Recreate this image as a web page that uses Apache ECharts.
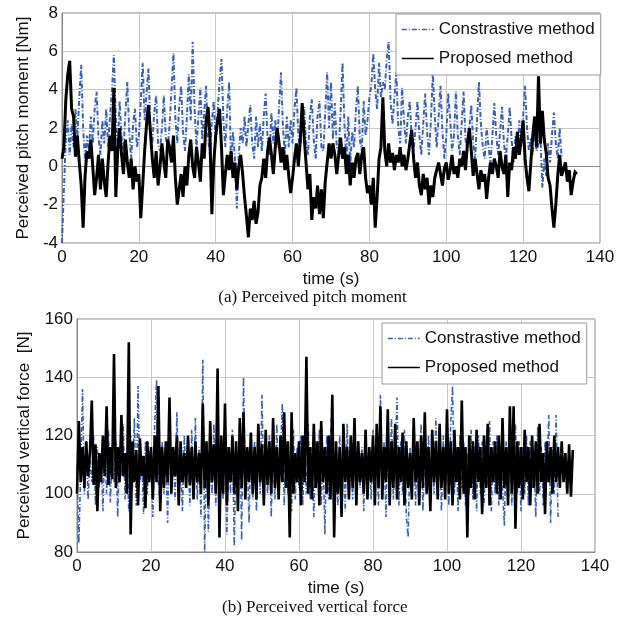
<!DOCTYPE html>
<html>
<head>
<meta charset="utf-8">
<script src="https://cdn.jsdelivr.net/npm/echarts@6/dist/echarts.min.js"></script>
<style>
html,body{margin:0;padding:0;background:#fff;}
#chart{width:625px;height:619px;}
</style>
</head>
<body>
<div id="chart"></div>
<script>
// ---- Data ----
const timeStep = 0.5; // seconds between samples
const seriesNames = ["Constrastive method", "Proposed method"];
const xTicks = [0, 20, 40, 60, 80, 100, 120, 140];

// (a) Perceived pitch moment [Nm], samples every 0.5 s from t = 0
const pitchContrastive = [
 -4.0,-1.2,1.5,2.4, 0.6,2.2,1.0,3.0, 1.5,3.6,5.3,2.0, 0.3,1.6,0.8,2.6, 1.2,3.0,3.9,1.5,
 0.6,2.4,1.2,3.0, 1.0,2.6,4.0,5.8, 2.5,1.0,3.4,1.5, 0.8,2.8,4.4,1.8, 0.4,2.2,3.0,1.0,
 1.6,3.4,5.4,2.4, 3.8,5.1,2.0,1.2, 2.8,3.7,1.2,0.8, 2.0,3.7,1.5,0.9, 2.2,4.0,5.9,2.5,
 1.2,3.2,4.2,1.8, 0.8,2.6,4.8,2.4, 6.5,3.0,1.0,2.6, 4.1,1.4,2.8,4.2, 1.5,0.6,2.4,3.4,
 1.2,2.8,4.5,5.6, 2.4,1.0,3.0,4.4, 0.0,1.8,0.4,-2.2, 0.6,2.0,1.2,2.6, 1.0,2.2,3.2,1.2,
 0.4,2.6,1.0,2.2, 0.8,2.6,3.8,1.4, 0.6,2.8,1.2,2.4, 1.0,3.2,4.9,2.0, 0.6,2.6,1.0,2.4,
 1.2,3.0,4.1,1.6, 0.8,2.4,3.1,1.2, 0.6,2.6,3.5,1.4, 0.4,2.6,3.4,1.0, 0.8,2.8,4.9,2.0,
 4.4,1.4,3.3,1.0, 0.8,2.8,5.4,2.2, 0.2,2.6,0.0,1.8, 1.0,3.0,4.2,1.4, 0.8,3.4,1.6,2.4,
 3.6,4.2,5.9,4.0, 3.0,5.4,3.6,4.4, 4.0,5.6,6.5,3.4, 2.2,3.6,4.9,2.0, 1.2,4.1,2.4,1.2,
 2.6,3.4,1.4,0.8, 2.0,3.4,1.6,0.6, 2.2,3.8,1.8,0.6, 2.4,4.9,2.6,1.0, 2.6,4.2,1.8,0.4,
 1.6,3.8,2.5,0.8, 1.6,3.9,1.6,0.6, 2.2,3.9,1.4,0.8, 2.0,3.2,1.2,0.4, 2.4,4.4,2.2,1.0,
 0.4,2.0,1.0,0.2, 1.6,3.3,1.6,0.6, 1.8,3.1,1.2,0.4, 1.6,3.1,1.4,0.2, 1.6,0.6,2.4,1.0,
 2.6,4.2,2.0,0.8, 1.5,0.6,2.0,0.8, 0.8,1.6,-1.1,0.4, -0.5,1.2,0.2,1.6, 2.8,1.2,0.4,2.0,
 0.5
];
const pitchProposed = [
 0.4,1.0,3.5,4.8, 5.5,3.0,2.6,0.5, 1.6,0.2,-1.0,-3.2, -0.5,0.8,0.4,1.4, 0.0,-1.5,-0.6,0.6,
 -1.2,0.4,-0.8,-1.6, 0.2,1.6,0.8,4.1, -1.6,0.8,2.0,0.6, -0.4,1.4,0.2,-0.6, 0.4,-1.2,0.0,-0.8,
 -0.4,-2.7,-1.0,0.8, 2.2,3.2,1.8,0.4, -0.6,0.8,-1.0,0.0, 1.2,0.2,-0.6,1.4, 1.0,0.2,1.6,-0.6,
 -2.0,-1.2,-0.4,-1.6, 0.0,-1.0,0.6,1.4, 0.0,-0.6,1.0,0.2, -0.8,1.2,0.4,2.4, 3.1,1.6,-2.5,0.2,
 1.6,2.4,3.0,1.0, -1.5,-0.4,0.6,-0.2, 0.8,-0.6,0.2,-1.2, 0.0,0.6,-0.4,-1.6, -2.6,-3.7,-2.2,-2.8,
 -1.8,-3.0,-2.4,-1.0, -0.6,0.4,-0.6,0.8, 1.5,0.6,-0.4,1.0, 2.0,1.2,0.2,1.0, -0.2,0.6,-0.5,-1.4,
 -0.6,0.4,1.2,0.0, 1.4,3.3,1.6,0.2, -1.2,-0.4,-2.8,-1.6, -2.2,-1.0,-2.5,-1.2, -2.7,-0.8,0.2,1.2,
 0.4,1.2,0.6,-0.4, 0.6,1.5,0.4,1.0, -0.4,0.6,-1.0,0.2, -0.6,0.4,0.7,-0.4, 0.6,1.0,-0.6,-1.4,
 -1.0,-2.0,-0.6,-3.2, -1.6,0.4,1.0,3.6, 0.8,0.0,1.2,0.2, 0.7,-0.2,0.6,0.2, 1.0,0.0,0.6,-0.2,
 0.4,1.2,1.9,0.4, -0.6,0.2,-1.0,-1.5, -0.4,-1.2,-0.6,-2.0, -1.0,-1.6,-0.6,-0.2, 0.2,-0.4,-1.0,-0.1,
 0.2,-0.7,-0.2,0.6, -0.4,0.0,-0.6,0.4, 0.0,0.8,-0.2,1.2, 2.0,0.8,-0.5,0.4, -0.4,-1.2,-0.2,-0.8,
 -0.4,-1.7,-0.6,0.2, -0.4,0.4,0.0,-0.6, 0.8,0.0,-0.4,0.6, -1.6,0.2,-0.2,1.0, 0.4,1.8,0.6,1.4,
 2.4,0.4,-0.6,-1.3, 0.2,1.6,2.6,1.0, 4.7,1.2,2.9,1.4, 0.7,-0.6,-1.0,-2.2, -3.2,-2.0,-0.5,0.6,
 -0.5,-0.4,0.2,-0.8, -0.2,-1.5,-0.8,-0.3, -0.4
];

// (b) Perceived vertical force [N], samples every 0.5 s from t = 0
const forceContrastive = [
 110,83,108,136,100,118,98,112,104,120,96,116,102,114,94,118,100,122,97,114,
 104,118,92,116,106,124,98,112,94,120,102,126,96,137,104,112,93,118,100,115,
 108,92,124,139,104,96,118,100,114,90,122,102,116,98,128,100,112,94,120,104,
 114,96,122,100,126,98,116,92,146,80,118,87,112,100,124,96,116,102,112,98,
 118,86,112,100,122,82,116,96,126,84,140,100,114,90,120,98,118,94,122,100,
 134,96,116,100,120,92,118,98,124,100,114,131,96,118,100,112,94,122,98,116,
 102,120,96,114,100,124,98,116,92,118,104,122,96,114,86,120,98,118,134,100,
 112,96,120,100,116,94,124,100,114,98,120,96,118,102,116,94,122,100,114,98,
 122,100,116,96,134,100,118,92,122,100,126,98,116,133,96,118,100,122,92,85,
 116,100,120,96,118,102,124,94,116,100,120,96,118,100,126,98,116,94,120,100,
 118,96,124,137,100,116,94,120,102,118,96,114,100,122,98,116,94,120,100,118,
 96,116,102,125,94,118,100,120,96,114,102,89,118,100,122,96,116,124,100,118,
 94,116,100,120,96,118,102,114,92,123,100,116,96,118,104,127,90,116,100,127,
 92
];
const forceProposed = [
 100,125,104,116,102,118,106,114,132,103,117,94,114,104,120,106,130,103,116,105,
 148,102,116,104,127,106,114,100,152,86,118,104,115,96,119,106,113,95,118,104,
 116,98,120,104,137,94,116,102,118,104,133,100,116,106,120,96,118,104,114,102,
 120,103,116,98,118,104,114,100,131,102,118,96,125,104,117,100,143,85,120,100,
 131,96,116,104,120,100,118,94,126,102,128,98,116,104,121,100,116,98,124,104,
 117,96,122,103,118,100,126,102,116,98,120,104,128,102,118,85,128,100,114,104,
 118,96,120,104,147,100,116,98,124,102,118,96,125,104,116,100,120,98,134,85,
 118,100,116,92,124,104,116,98,120,102,126,96,118,104,114,100,122,98,116,104,
 120,96,124,102,130,98,116,104,129,96,118,102,124,98,116,104,121,96,118,102,
 114,98,126,104,118,96,120,102,128,100,116,94,122,104,118,98,124,102,116,98,
 129,100,118,96,122,104,116,98,132,100,116,85,120,102,118,98,122,104,116,93,
 120,102,124,96,116,104,118,100,120,98,126,102,116,96,130,100,130,88,118,102,
 116,98,122,104,116,96,120,102,118,100,124,104,114,93,118,104,116,100,120,104,
 116,102,118,104,114,100,117,99,115
];

// ---- Chart ----
const BLUE = '#3a60b6';
const pairs = arr => arr.map((v, i) => [i * timeStep, v]);
const axisFont = {fontFamily: 'Liberation Sans, Arial, sans-serif', fontSize: 17, color: '#111'};
const serifFont = {fontFamily: 'Liberation Serif, Times New Roman, serif', fontSize: 17, color: '#111', fontWeight: 'normal'};

function xAxis(gridIndex) {
  return {
    type: 'value', gridIndex, min: 0, max: 140, interval: 20,
    name: 'time (s)', nameLocation: 'middle', nameGap: 28, nameTextStyle: axisFont,
    axisLabel: Object.assign({margin: 6}, axisFont),
    axisLine: {show: true, lineStyle: {color: '#888', width: 1}},
    axisTick: {show: false},
    splitLine: {show: true, lineStyle: {color: '#c8c8c8', width: 1}}
  };
}
function yAxis(gridIndex, min, max, interval, name, gap) {
  return {
    type: 'value', gridIndex, min, max, interval,
    name, nameLocation: 'middle', nameGap: gap, nameTextStyle: axisFont,
    axisLabel: Object.assign({margin: 4}, axisFont),
    axisLine: {show: true, lineStyle: {color: '#888', width: 1}},
    axisTick: {show: false},
    splitLine: {show: true, lineStyle: {color: '#c8c8c8', width: 1}}
  };
}
function legend(top, left) {
  return {
    top, left, orient: 'vertical',
    data: seriesNames,
    itemWidth: 32, itemHeight: 10, itemGap: 12,
    backgroundColor: '#fff', borderColor: '#999', borderWidth: 1,
    padding: [7, 6, 8, 5],
    itemStyle: {opacity: 0},
    lineStyle: {width: 1.6},
    textStyle: Object.assign({}, axisFont, {fontSize: 17}),
    selectedMode: false
  };
}
function lineSeries(name, idx, data, color, dashed, width) {
  return {
    name, type: 'line', xAxisIndex: idx, yAxisIndex: idx,
    data: pairs(data), showSymbol: false, symbol: 'none', animation: false,
    lineStyle: {color, width, type: dashed ? [5, 2, 1, 2] : 'solid', join: 'miter', miterLimit: 4},
    itemStyle: {color}, z: dashed ? 2 : 3
  };
}

const chart = echarts.init(document.getElementById('chart'), null, {renderer: 'canvas'});
chart.setOption({
  backgroundColor: '#fff',
  animation: false,
  title: [
    {text: '(a) Perceived pitch moment', left: 'center', top: 289, textStyle: serifFont, padding: 0},
    {text: '(b) Perceived vertical force', left: 222, top: 599, textStyle: serifFont, padding: 0}
  ],
  grid: [
    {left: 62, top: 13, width: 538, height: 230, show: true, borderColor: '#888', borderWidth: 1, backgroundColor: '#fff'},
    {left: 77, top: 319, width: 518, height: 233, show: true, borderColor: '#888', borderWidth: 1, backgroundColor: '#fff'}
  ],
  xAxis: [xAxis(0), xAxis(1)],
  yAxis: [
    yAxis(0, -4, 8, 2, 'Perceived pitch moment [Nm]', 30),
    yAxis(1, 80, 160, 20, 'Perceived vertical force  [N]', 44)
  ],
  legend: [legend(14, 396), legend(323, 382)],
  series: [
    lineSeries(seriesNames[0], 0, pitchContrastive, BLUE, true, 2.0),
    lineSeries(seriesNames[1], 0, pitchProposed, '#000', false, 3.0),
    lineSeries(seriesNames[0], 1, forceContrastive, BLUE, true, 1.6),
    lineSeries(seriesNames[1], 1, forceProposed, '#000', false, 2.6)
  ]
});
</script>
</body>
</html>
